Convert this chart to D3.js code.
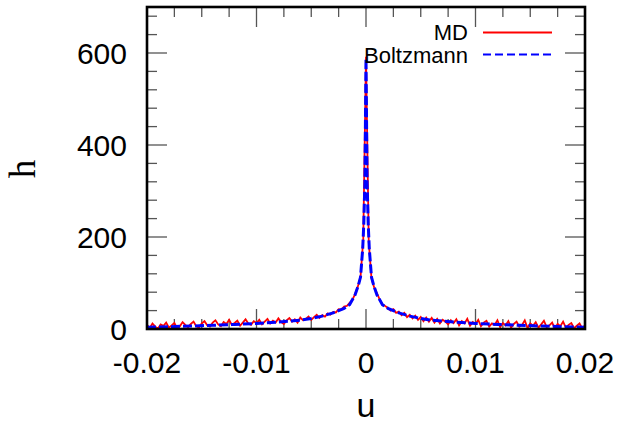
<!DOCTYPE html>
<html>
<head>
<meta charset="utf-8">
<script src="https://cdn.jsdelivr.net/npm/d3@7"></script>
<style>
  body { margin: 0; background: #fff; }
  text { font-family: "Liberation Sans", Arial, sans-serif; }
</style>
</head>
<body>
<div id="chart"></div>
<script>
//Chart values
var xTicks = [-0.02, -0.01, 0, 0.01, 0.02],
    xTickLabels = ["-0.02", "-0.01", "0", "0.01", "0.02"],
    yTicks = [0, 200, 400, 600],
    yTickLabels = ["0", "200", "400", "600"];

// MD histogram, bins of 0.00025 from -0.02 to 0.02
var mdStep = 0.00025;
var mdH = [9, 2, 12, 5, 1, 10, 7, 14, 3, 8, 13, 2, 6, 15, 9, 4, 11, 16, 6, 3,
    12, 17, 8, 5, 14, 19, 10, 6, 15, 11, 20, 9, 13, 18, 7, 14, 21, 12, 9, 17,
    13, 20, 10, 16, 22, 12, 18, 14, 23, 15, 11, 19, 24, 16, 21, 14, 25, 19, 22, 27,
    20, 26, 31, 24, 30, 27, 34, 31, 37, 36, 43, 42, 49, 50, 57, 63, 76, 92, 113, 195,
    592,
    190, 110, 90, 78, 64, 53, 50, 46, 40, 43, 35, 38, 30, 35, 26, 31, 23, 29, 20, 26,
    17, 25, 16, 24, 14, 22, 12, 20, 16, 10, 19, 13, 21, 8, 17, 12, 22, 7, 15, 11,
    20, 6, 14, 18, 5, 12, 9, 19, 4, 13, 8, 17, 3, 11, 16, 5, 9, 19, 2, 12,
    7, 15, 3, 10, 18, 4, 8, 14, 1, 11, 6, 16, 3, 9, 13, 2, 7, 12, 1, 8];

// Boltzmann prediction
var boltzU = [-0.02, -0.018, -0.016, -0.014, -0.012, -0.01, -0.008, -0.006, -0.005, -0.004,
    -0.003, -0.0025, -0.002, -0.0015, -0.001, -0.0007, -0.0005, -0.0003, -0.0002, -0.0001,
    0,
    0.0001, 0.0002, 0.0003, 0.0005, 0.0007, 0.001, 0.0015, 0.002, 0.0025, 0.003,
    0.004, 0.005, 0.006, 0.008, 0.01, 0.012, 0.014, 0.016, 0.018, 0.02];
var boltzH = [4, 5, 6.5, 8, 10, 12, 15, 19, 23, 28,
    35, 40, 45, 53, 74, 95, 113, 175, 230, 320,
    588,
    320, 230, 175, 113, 95, 74, 53, 45, 40, 35,
    28, 23, 19, 15, 12, 10, 8, 6.5, 5, 4];

var W = 621, H = 423;
var pLeft = 147, pRight = 585, pTop = 7, pBottom = 329;

var svg = d3.select("#chart").append("svg")
    .attr("width", W)
    .attr("height", H);

var x = d3.scaleLinear().domain([-0.02, 0.02]).range([pLeft, pRight]);
var y = d3.scaleLinear().domain([0, 700]).range([pBottom, pTop]);

//Clip for the curves
svg.append("clipPath").attr("id", "clip")
  .append("rect")
    .attr("x", pLeft).attr("y", pTop)
    .attr("width", pRight - pLeft).attr("height", pBottom - pTop);

//Ticks, mirrored on all four sides, pointing inward
var ticks = svg.append("g")
    .attr("stroke", "#555")
    .attr("stroke-width", 1.3);
var xMinor = d3.range(-0.02, 0.02 + 1e-9, 0.0025);
xMinor.forEach(function(v) {
  var major = Math.abs(v / 0.01 - Math.round(v / 0.01)) < 1e-6;
  var len = major ? 20 : 10;
  ticks.append("line").attr("x1", x(v)).attr("x2", x(v)).attr("y1", pBottom).attr("y2", pBottom - len);
  ticks.append("line").attr("x1", x(v)).attr("x2", x(v)).attr("y1", pTop).attr("y2", pTop + len);
});
var yMinor = d3.range(0, 700 + 1e-9, 40);
yMinor.forEach(function(v) {
  var major = v % 200 === 0;
  var len = major ? 20 : 10;
  ticks.append("line").attr("y1", y(v)).attr("y2", y(v)).attr("x1", pLeft).attr("x2", pLeft + len);
  ticks.append("line").attr("y1", y(v)).attr("y2", y(v)).attr("x1", pRight).attr("x2", pRight - len);
});

//Curves
var plot = svg.append("g").attr("clip-path", "url(#clip)");

var mdData = mdH.map(function(h, i) { return [-0.02 + i * mdStep, h]; });
var boltzData = boltzU.map(function(u, i) { return [u, boltzH[i]]; });

var line = d3.line()
    .x(function(d) { return x(d[0]); })
    .y(function(d) { return y(d[1]); });

plot.append("path")
    .datum(mdData)
    .attr("d", line)
    .attr("fill", "none")
    .attr("stroke", "#ff0000")
    .attr("stroke-width", 1.8);

plot.append("path")
    .datum(boltzData)
    .attr("d", line)
    .attr("fill", "none")
    .attr("stroke", "#0000ff")
    .attr("stroke-width", 3)
    .attr("stroke-dasharray", "9,3");

//Frame
svg.append("rect")
    .attr("x", pLeft).attr("y", pTop)
    .attr("width", pRight - pLeft).attr("height", pBottom - pTop)
    .attr("fill", "none")
    .attr("stroke", "#000")
    .attr("stroke-width", 2.6);

//Tick labels
svg.selectAll(".xlab")
    .data(xTicks)
    .enter().append("text")
    .attr("class", "xlab")
    .attr("x", function(d) { return x(d); })
    .attr("y", 373)
    .attr("text-anchor", "middle")
    .style("font-size", "30px")
    .text(function(d, i) { return xTickLabels[i]; });

svg.selectAll(".ylab")
    .data(yTicks)
    .enter().append("text")
    .attr("class", "ylab")
    .attr("x", 127)
    .attr("y", function(d) { return y(d) + 11; })
    .attr("text-anchor", "end")
    .style("font-size", "30px")
    .text(function(d, i) { return yTickLabels[i]; });

//Axis titles
svg.append("text")
    .attr("x", 366)
    .attr("y", 417)
    .attr("text-anchor", "middle")
    .style("font-size", "34px")
    .text("u");

svg.append("text")
    .attr("transform", "translate(35,169) rotate(-90)")
    .attr("text-anchor", "middle")
    .style("font-family", "'Liberation Serif', 'Times New Roman', serif")
    .style("font-size", "37px")
    .text("h");

//Legend
var legend = svg.append("g");
legend.append("text")
    .attr("x", 468).attr("y", 39.5)
    .attr("text-anchor", "end")
    .style("font-size", "22px")
    .text("MD");
legend.append("line")
    .attr("x1", 483).attr("x2", 552).attr("y1", 32.5).attr("y2", 32.5)
    .attr("stroke", "#ff0000").attr("stroke-width", 2);
legend.append("text")
    .attr("x", 468).attr("y", 63)
    .attr("text-anchor", "end")
    .style("font-size", "22px")
    .text("Boltzmann");
legend.append("line")
    .attr("x1", 483).attr("x2", 552).attr("y1", 54.5).attr("y2", 54.5)
    .attr("stroke", "#0000ff").attr("stroke-width", 2)
    .attr("stroke-dasharray", "8,4");
</script>
</body>
</html>
